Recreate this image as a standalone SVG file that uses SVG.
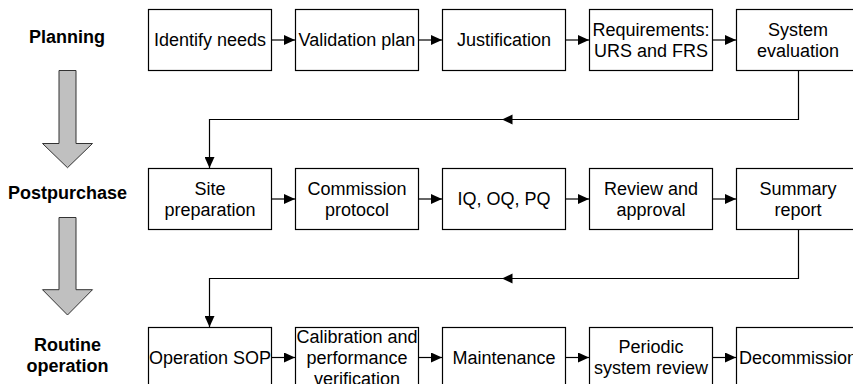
<svg xmlns="http://www.w3.org/2000/svg" width="853" height="384" viewBox="0 0 853 384">
  <style>
    .box { fill: #ffffff; stroke: #000000; stroke-width: 1.2; }
    .t { font-family: "Liberation Sans", Arial, Helvetica, sans-serif; font-size: 18px; fill: #000000; text-anchor: middle; }
    .lbl { font-family: "Liberation Sans", Arial, Helvetica, sans-serif; font-size: 18px; font-weight: bold; fill: #000000; text-anchor: middle; }
    .wire { fill: none; stroke: #000000; stroke-width: 1.2; }
    .phase { fill: #c0c0c0; stroke: #333333; stroke-width: 1; }
  </style>
  <defs>
    <marker id="ah" viewBox="0 0 11 10" refX="11" refY="5" markerWidth="11" markerHeight="10" markerUnits="userSpaceOnUse" orient="auto">
      <path d="M0,0 L11,5 L0,10 z" fill="#000000"/>
    </marker>
  </defs>

  <rect width="853" height="384" fill="#ffffff"/>

  <!-- phase labels and arrows -->
  <g id="phases">
    <text class="lbl" x="67" y="43.3">Planning</text>
    <polygon class="phase" points="59,70.5 76,70.5 76,143.5 92.5,143.5 67.5,167.7 42.5,143.5 59,143.5"/>
    <text class="lbl" x="67.5" y="199">Postpurchase</text>
    <polygon class="phase" points="59,217.5 76,217.5 76,289.7 92.5,289.7 67.5,315 42.5,289.7 59,289.7"/>
    <text class="lbl" x="67.5" y="350.7">Routine</text>
    <text class="lbl" x="67.5" y="372.3">operation</text>
  </g>

  <!-- connectors -->
  <g id="connectors">
    <line class="wire" x1="271.5" y1="40" x2="295" y2="40" marker-end="url(#ah)"/>
    <line class="wire" x1="418.5" y1="40" x2="442" y2="40" marker-end="url(#ah)"/>
    <line class="wire" x1="565.5" y1="40" x2="589" y2="40" marker-end="url(#ah)"/>
    <line class="wire" x1="712.5" y1="40" x2="736" y2="40" marker-end="url(#ah)"/>

    <path class="wire" d="M798.5,70.5 V119.5 H209.5 V168" marker-end="url(#ah)"/>
    <polygon points="502,119.5 512.5,114.5 512.5,124.5" fill="#000000"/>

    <line class="wire" x1="271.5" y1="199" x2="295" y2="199" marker-end="url(#ah)"/>
    <line class="wire" x1="418.5" y1="199" x2="442" y2="199" marker-end="url(#ah)"/>
    <line class="wire" x1="565.5" y1="199" x2="589" y2="199" marker-end="url(#ah)"/>
    <line class="wire" x1="712.5" y1="199" x2="736" y2="199" marker-end="url(#ah)"/>

    <path class="wire" d="M798.5,229.5 V278.5 H209.5 V327" marker-end="url(#ah)"/>
    <polygon points="502,278.5 512.5,273.5 512.5,283.5" fill="#000000"/>

    <line class="wire" x1="271.5" y1="357.5" x2="295" y2="357.5" marker-end="url(#ah)"/>
    <line class="wire" x1="418.5" y1="357.5" x2="442" y2="357.5" marker-end="url(#ah)"/>
    <line class="wire" x1="565.5" y1="357.5" x2="589" y2="357.5" marker-end="url(#ah)"/>
    <line class="wire" x1="712.5" y1="357.5" x2="736" y2="357.5" marker-end="url(#ah)"/>
  </g>

  <!-- planning row -->
  <g id="identify-needs">
    <rect class="box" x="148.5" y="9.5" width="123" height="61"/>
    <text class="t" x="210" y="46.4">Identify needs</text>
  </g>
  <g id="validation-plan">
    <rect class="box" x="295.5" y="9.5" width="123" height="61"/>
    <text class="t" x="357" y="46.4">Validation plan</text>
  </g>
  <g id="justification">
    <rect class="box" x="442.5" y="9.5" width="123" height="61"/>
    <text class="t" x="504" y="46.4">Justification</text>
  </g>
  <g id="requirements">
    <rect class="box" x="589.5" y="9.5" width="123" height="61"/>
    <text class="t" x="651" y="35.9">Requirements:</text>
    <text class="t" x="651" y="56.9">URS and FRS</text>
  </g>
  <g id="system-evaluation">
    <rect class="box" x="736.5" y="9.5" width="123" height="61"/>
    <text class="t" x="798" y="35.9">System</text>
    <text class="t" x="798" y="56.9">evaluation</text>
  </g>

  <!-- postpurchase row -->
  <g id="site-preparation">
    <rect class="box" x="148.5" y="168.5" width="123" height="61"/>
    <text class="t" x="210" y="194.9">Site</text>
    <text class="t" x="210" y="215.9">preparation</text>
  </g>
  <g id="commission-protocol">
    <rect class="box" x="295.5" y="168.5" width="123" height="61"/>
    <text class="t" x="357" y="194.9">Commission</text>
    <text class="t" x="357" y="215.9">protocol</text>
  </g>
  <g id="iq-oq-pq">
    <rect class="box" x="442.5" y="168.5" width="123" height="61"/>
    <text class="t" x="504" y="205.4">IQ, OQ, PQ</text>
  </g>
  <g id="review-approval">
    <rect class="box" x="589.5" y="168.5" width="123" height="61"/>
    <text class="t" x="651" y="194.9">Review and</text>
    <text class="t" x="651" y="215.9">approval</text>
  </g>
  <g id="summary-report">
    <rect class="box" x="736.5" y="168.5" width="123" height="61"/>
    <text class="t" x="798" y="194.9">Summary</text>
    <text class="t" x="798" y="215.9">report</text>
  </g>

  <!-- routine operation row -->
  <g id="operation-sop">
    <rect class="box" x="148.5" y="327.5" width="123" height="61"/>
    <text class="t" x="210" y="363.9">Operation SOP</text>
  </g>
  <g id="calibration">
    <rect class="box" x="295.5" y="327.5" width="123" height="61"/>
    <text class="t" x="357" y="342.8">Calibration and</text>
    <text class="t" x="357" y="363.8">performance</text>
    <text class="t" x="357" y="384.8">verification</text>
  </g>
  <g id="maintenance">
    <rect class="box" x="442.5" y="327.5" width="123" height="61"/>
    <text class="t" x="504" y="363.9">Maintenance</text>
  </g>
  <g id="periodic-review">
    <rect class="box" x="589.5" y="327.5" width="123" height="61"/>
    <text class="t" x="651" y="353.4">Periodic</text>
    <text class="t" x="651" y="374.4">system review</text>
  </g>
  <g id="decommission">
    <rect class="box" x="736.5" y="327.5" width="123" height="61"/>
    <text class="t" x="798" y="363.9">Decommission</text>
  </g>
</svg>
